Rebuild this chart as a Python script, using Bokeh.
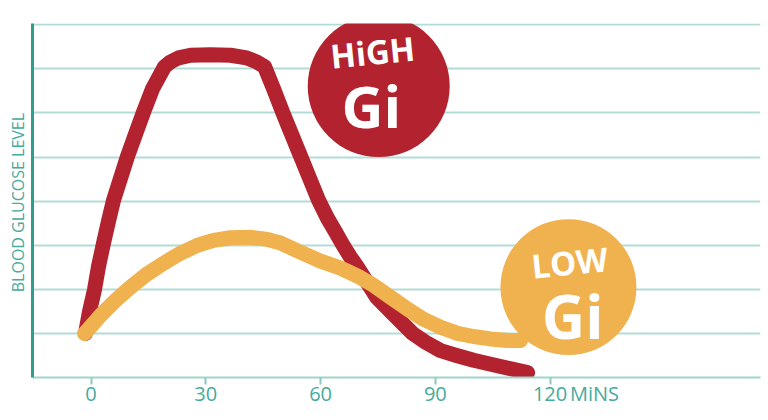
from bokeh.plotting import figure
from bokeh.models import FixedTicker, Label, Range1d
from bokeh.embed import file_html
from bokeh.resources import INLINE

# ---- data ----
minute_ticks = [0, 30, 60, 90, 120]
minute_labels = ["0", "30", "60", "90", "120"]
unit_tick = 131.6
unit_label = "MiNS"
glucose_grid = [1, 2, 3, 4, 5, 6, 7, 8]

high_gi_min = [-1.44, -0.39, 0.92, 1.96, 3.27, 4.58, 5.88, 7.71, 9.54, 11.63,
               13.72, 16.08, 19.22, 20.78, 22.88, 26.01, 31.24, 36.47, 40.65,
               43.27, 45.36, 47.71, 50.07, 52.42, 54.77, 57.13, 59.48, 61.83,
               63.92, 65.75, 67.84, 69.67, 71.50, 73.33, 74.64, 78.30, 84.05,
               87.45, 91.37, 95.55, 100.0, 107.06, 114.12]
high_gi_level = [1.0, 1.5, 2.0, 2.52, 3.05, 3.55, 4.02, 4.52, 5.02, 5.52,
                 6.02, 6.55, 7.05, 7.16, 7.25, 7.31, 7.32, 7.31, 7.25,
                 7.16, 7.05, 6.55, 6.02, 5.52, 5.02, 4.52, 4.02, 3.61,
                 3.30, 3.02, 2.73, 2.5, 2.25, 2.0, 1.82, 1.5, 1.0,
                 0.8, 0.61, 0.5, 0.39, 0.25, 0.11]

low_gi_min = [-1.70, 0.39, 2.48, 6.41, 10.33, 14.51, 18.95, 23.40, 27.84,
              32.03, 36.47, 41.70, 45.62, 49.54, 54.77, 60.00, 65.23, 69.67,
              73.86, 78.30, 82.75, 86.93, 91.37, 95.82, 100.0, 104.44,
              108.89, 112.29]
low_gi_level = [1.0, 1.2, 1.41, 1.75, 2.05, 2.34, 2.59, 2.82, 3.0,
                3.11, 3.17, 3.18, 3.14, 3.05, 2.84, 2.64, 2.48, 2.30,
                2.09, 1.82, 1.55, 1.32, 1.14, 1.0, 0.93, 0.875,
                0.84, 0.84]

RED = "#b3232f"
ORANGE = "#f0b24f"
TEAL = "#2f9e8f"
TEAL_LIGHT = "#b3dcd6"
TEAL_TEXT = "#45ab9d"

p = figure(width=768, height=420, output_backend="svg", toolbar_location=None,
           x_range=Range1d(-15.3, 175.0), y_range=Range1d(0, 8.03),
           min_border_left=32, min_border_right=8, min_border_top=23,
           min_border_bottom=43)
p.outline_line_color = None
p.background_fill_color = "white"
p.border_fill_color = "white"

# x axis: labels on major ticks (incl. unit), tick marks drawn as minor ticks
xa = p.xaxis[0]
xa.ticker = FixedTicker(ticks=minute_ticks + [unit_tick],
                        minor_ticks=minute_ticks)
xa.major_label_overrides = {t: l for t, l in zip(minute_ticks + [unit_tick],
                                                 minute_labels + [unit_label])}
xa.major_tick_line_color = None
xa.major_tick_in = 0
xa.major_tick_out = 0
xa.minor_tick_in = 0
xa.minor_tick_out = 7
xa.minor_tick_line_color = "#8ccac1"
xa.minor_tick_line_width = 2
xa.axis_line_color = "#9fd3cc"
xa.axis_line_width = 2
xa.major_label_standoff = -5
xa.major_label_text_font = "Open Sans"
xa.major_label_text_font_size = "20px"
xa.major_label_text_color = TEAL_TEXT

# y axis
ya = p.yaxis[0]
ya.ticker = FixedTicker(ticks=[])
ya.minor_tick_line_color = None
ya.major_tick_out = 0
ya.major_tick_in = 0
ya.major_label_standoff = 0
ya.axis_line_color = TEAL
ya.axis_line_width = 3
ya.axis_label = "BLOOD GLUCOSE  LEVEL"
ya.axis_label_text_font = "Open Sans"
ya.axis_label_text_font_size = "16px"
ya.axis_label_text_font_style = "normal"
ya.axis_label_text_color = TEAL_TEXT
ya.axis_label_standoff = 4

p.xgrid.grid_line_color = None
p.ygrid.ticker = FixedTicker(ticks=glucose_grid)
p.ygrid.grid_line_color = TEAL_LIGHT
p.ygrid.grid_line_width = 2

# curves (orange drawn over red, as in the reference)
p.line(high_gi_min, high_gi_level, line_color=RED, line_width=15,
       line_cap="round", line_join="round")
p.line(low_gi_min, low_gi_level, line_color=ORANGE, line_width=15,
       line_cap="round", line_join="round")

# bubbles
p.scatter([75.2], [6.61], marker="circle", size=142, fill_color=RED,
          line_color=None)
p.scatter([124.8], [2.05], marker="circle", size=136, fill_color=ORANGE,
          line_color=None)

def bubble_text(txt, x, y, size, angle=0.0):
    p.add_layout(Label(x=x, y=y, text=txt, text_font="Open Sans",
                       text_font_style="bold", text_font_size=size,
                       text_color="white", text_align="center",
                       text_baseline="middle", angle=angle))

bubble_text("HiGH", 73.6, 7.38, "33px", 0.1)
bubble_text("Gi", 73.3, 6.18, "58px")
bubble_text("LOW", 125.1, 2.61, "33px", 0.1)
bubble_text("Gi", 125.9, 1.39, "60px")

open("out.html", "w").write(file_html(p, INLINE))
